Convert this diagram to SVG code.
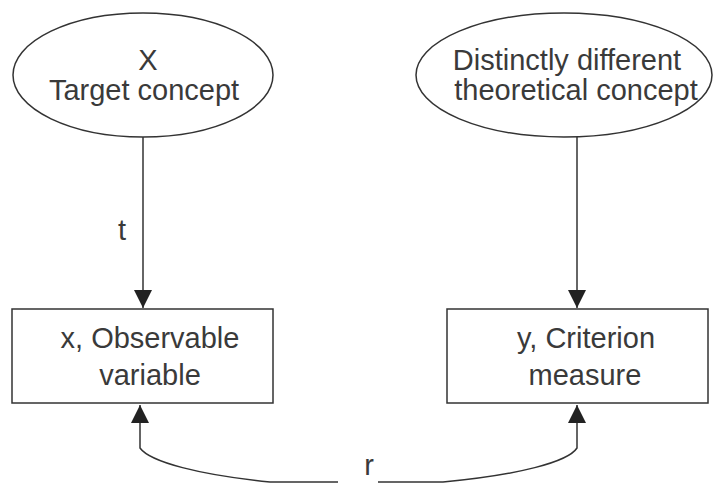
<svg xmlns="http://www.w3.org/2000/svg" width="713" height="484" viewBox="0 0 713 484">
<style>
.shape{fill:#fff;stroke:#333;stroke-width:1.5}
.conn{fill:none;stroke:#333;stroke-width:1.5}
text{font-family:"Liberation Sans",Arial,sans-serif;font-size:29px;fill:#3a3a3a;text-anchor:middle}
</style>
<defs>
<marker id="arr" markerWidth="20" markerHeight="20" refX="18" refY="9" orient="auto" markerUnits="userSpaceOnUse">
<path d="M0,0 L18,9 L0,18 Z" fill="#222"/>
</marker>
</defs>
<rect width="713" height="484" fill="#fff"/>
<g id="connectors">
<line class="conn" x1="143" y1="137" x2="143" y2="308" marker-end="url(#arr)"/>
<line class="conn" x1="577" y1="137" x2="577" y2="308" marker-end="url(#arr)"/>
<path class="conn" d="M338 482 L270 482 C200 475 150 462 140 448 L140 405" marker-end="url(#arr)"/>
<path class="conn" d="M378 482 L443 482 C518 475 568 462 577 448 L577 405" marker-end="url(#arr)"/>
<text x="122" y="240">t</text>
<text x="369" y="475">r</text>
</g>
<g id="target">
<ellipse class="shape" cx="143" cy="75" rx="130" ry="62"/>
<text x="148" y="70">X</text>
<text x="144" y="100">Target concept</text>
</g>
<g id="different">
<ellipse class="shape" cx="564" cy="75" rx="148" ry="62"/>
<text x="567" y="70">Distinctly different</text>
<text x="576" y="100">theoretical concept</text>
</g>
<g id="observable">
<rect class="shape" x="12" y="309" width="261" height="94"/>
<text x="150" y="348">x, Observable</text>
<text x="150" y="385">variable</text>
</g>
<g id="criterion">
<rect class="shape" x="447" y="309" width="261" height="94"/>
<text x="586" y="348">y, Criterion</text>
<text x="585" y="385">measure</text>
</g>
</svg>
